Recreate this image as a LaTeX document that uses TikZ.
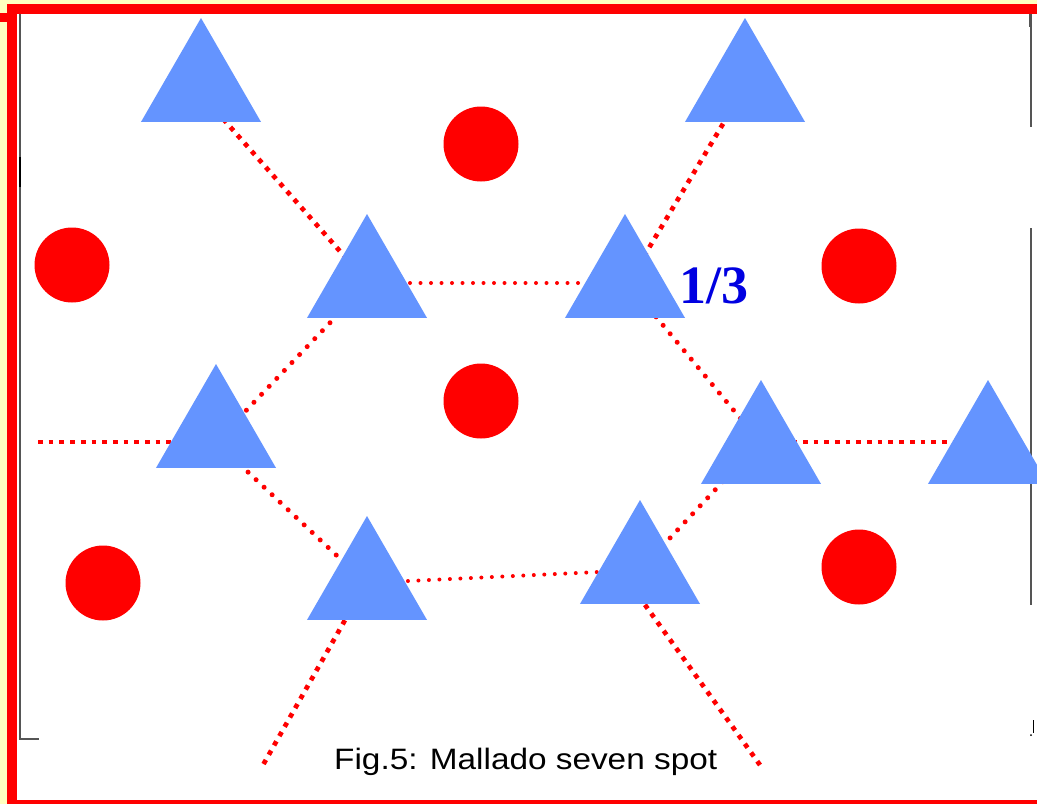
\documentclass[tikz,border=0pt]{standalone}
\usepackage{fontspec}
\usetikzlibrary{shapes.geometric}
\newfontfamily\capfont{Liberation Sans}
\newfontfamily\fracfont{Liberation Serif}
\definecolor{bgyellow}{RGB}{255,255,192}
\definecolor{triblue}{RGB}{100,148,255}
\definecolor{dotred}{RGB}{255,0,0}
\definecolor{fracblue}{RGB}{0,0,225}
\definecolor{scangray}{RGB}{85,85,85}
\tikzset{
  tri/.style={regular polygon, regular polygon sides=3, minimum size=138.6pt,
              inner sep=0pt, outer sep=0pt, fill=triblue, draw=none},
  spot/.style={circle, minimum size=75pt, inner sep=0pt, fill=dotred, draw=none},
  sqdots/.style={draw=dotred, line width=4.7pt, line cap=butt, dash pattern=on 4.7pt off 6pt},
  rddots/.style={draw=dotred, line width=5pt, line cap=round, dash pattern=on 0pt off 11pt},
  rdsmall/.style={draw=dotred, line width=4pt, line cap=round, dash pattern=on 0pt off 10.5pt},
  scanline/.style={draw=scangray, line width=1.2pt}
}
\begin{document}
\begin{tikzpicture}[x=1pt, y=-1pt]
\clip (0,0) rectangle (1037,804);
% frame
\fill[bgyellow] (0,0) rectangle (1037,804);
\fill[white] (7,4) rectangle (1037,804);
\fill[dotred] (7,4) rectangle (1037,14);
\fill[dotred] (7,4) rectangle (17,804);
\fill[dotred] (7,800) rectangle (1037,804);
\fill[dotred] (0,13) rectangle (8,22);
% scan lines
\draw[scanline] (20,14) -- (20,739) -- (39,739);
\draw[black, line width=2pt] (19.5,157) -- (19.5,187);
\draw[scanline] (1031,14) -- (1031,127);
\draw[scangray, line width=2.5pt] (1030.5,14) -- (1030.5,27);
\draw[scanline] (1031,228) -- (1031,605);
\draw[black, line width=1pt] (1033,720) -- (1033,733);
\fill[black] (1031,735) circle (1pt);
% mesh vertices
\coordinate (v1) at (195,87);
\coordinate (v2) at (745,87);
\coordinate (v3) at (368,283);
\coordinate (v4) at (628,283);
\coordinate (v5) at (216,442);
\coordinate (v6) at (760,442);
\coordinate (v7) at (988,442);
\coordinate (v8) at (366,583);
\coordinate (v9) at (640,570);
\coordinate (l0) at (38,442);
\coordinate (e8) at (263,765);
\coordinate (s9) at (620,570);
\coordinate (e9) at (760,765);
% connectors
\draw[sqdots] (v1) -- (v3);
\draw[sqdots] (v2) -- (v4);
\draw[rdsmall] (v3) -- (v4);
\draw[rddots] (v3) -- (v5);
\draw[rddots] (v4) -- (v6);
\draw[sqdots] (l0) -- (v5);
\draw[sqdots] (v6) -- (v7);
\draw[rddots] (v5) -- (v8);
\draw[rdsmall] (v8) -- (v9);
\draw[rddots] (v9) -- (v6);
\draw[sqdots] (v8) -- (e8);
\draw[sqdots] (s9) -- (e9);
% triangles
\node[tri] (t1) at (201,87.3) {};
\node[tri] (t2) at (745,87.3) {};
\node[tri] (t3) at (367,283.3) {};
\node[tri] (t4) at (625,283.3) {};
\node[tri] (t5) at (216,433.3) {};
\node[tri] (t6) at (761,449.3) {};
\node[tri] (t7) at (988,449.3) {};
\node[tri] (t8) at (367,585.3) {};
\node[tri] (t9) at (640,569.3) {};
% circles
\node[spot] (c1) at (481,144) {};
\node[spot] (c2) at (72,265) {};
\node[spot] (c3) at (859,266) {};
\node[spot] (c4) at (481,401) {};
\node[spot] (c5) at (103,583) {};
\node[spot] (c6) at (859,567) {};
% labels
\node[anchor=base west, inner sep=0pt, text=fracblue] (frac) at (679,303)
  {\fracfont\bfseries\fontsize{54}{60}\selectfont 1/3};
\node[anchor=base west, inner sep=0pt, text=black] (cap) at (334,769)
  {\scalebox{1.13}[1]{\capfont\fontsize{29.5}{34}\selectfont Fig.5: Mallado seven spot}};
\end{tikzpicture}
\end{document}
